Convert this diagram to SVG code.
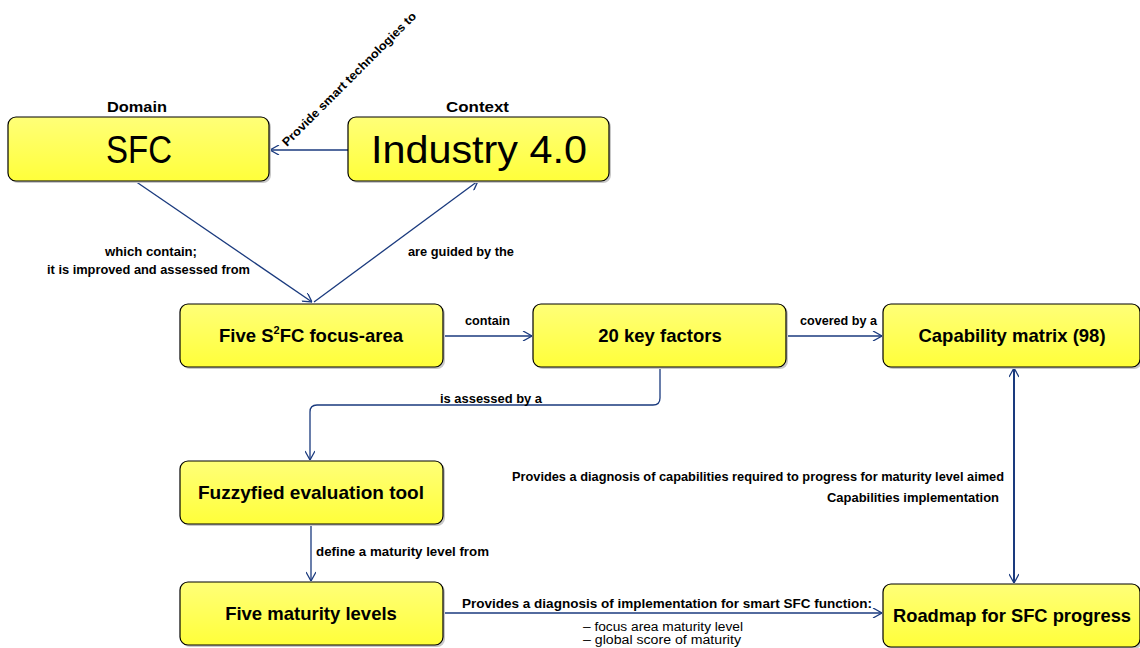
<svg xmlns="http://www.w3.org/2000/svg" width="1140" height="648" viewBox="0 0 1140 648">
<style>
.box{fill:url(#yg);stroke:#000;stroke-width:1.2}
.sh{fill:#c8c8c8}
.t{font-family:"Liberation Sans",Arial,sans-serif;font-weight:bold;font-size:18.5px;text-anchor:middle;fill:#000}
.big{font-family:"Liberation Sans",Arial,sans-serif;font-size:38px;text-anchor:middle;fill:#000}
.lb{font-family:"Liberation Sans",Arial,sans-serif;font-weight:bold;font-size:12px;fill:#000}
.ln{font-family:"Liberation Sans",Arial,sans-serif;font-size:12px;fill:#000}
.c{fill:none;stroke:#1a3a7e;stroke-width:1.3}
</style>
<defs>
<linearGradient id="yg" x1="0" y1="0" x2="0" y2="1">
<stop offset="0" stop-color="#ffff78"/>
<stop offset="1" stop-color="#ffff3a"/>
</linearGradient>
<marker id="a" viewBox="0 0 10 10" refX="10" refY="5" markerWidth="10" markerHeight="10" markerUnits="userSpaceOnUse" orient="auto-start-reverse">
<path d="M1,0 L10,5 L1,10" fill="none" stroke="#1a3a7e" stroke-width="1.3"/>
</marker>
</defs>

<g id="connectors">
<line class="c" x1="348" y1="150" x2="270" y2="150" marker-end="url(#a)"/>
<line class="c" x1="135" y1="181" x2="312" y2="302" marker-end="url(#a)"/>
<line class="c" x1="314" y1="302" x2="478" y2="181" marker-end="url(#a)"/>
<line class="c" x1="443" y1="336" x2="532" y2="336" marker-end="url(#a)"/>
<line class="c" x1="786" y1="336" x2="882" y2="336" marker-end="url(#a)"/>
<path class="c" d="M660,367 V398 Q660,405 653,405 H317 Q310,405 310,412 V460" marker-end="url(#a)"/>
<line class="c" x1="311" y1="524" x2="311" y2="581" marker-end="url(#a)"/>
<line class="c" x1="443" y1="613" x2="882" y2="613" marker-end="url(#a)"/>
<line class="c" style="stroke-width:2" x1="1014" y1="368" x2="1014" y2="583" marker-start="url(#a)" marker-end="url(#a)"/>
<text class="lb" transform="translate(287,147) rotate(-45)" textLength="184" lengthAdjust="spacingAndGlyphs">Provide smart technologies to</text>
<text class="lb" x="105" y="256" textLength="92" lengthAdjust="spacingAndGlyphs">which contain;</text>
<text class="lb" x="47" y="274" textLength="203" lengthAdjust="spacingAndGlyphs">it is improved and  assessed from</text>
<text class="lb" x="408" y="256" textLength="106" lengthAdjust="spacingAndGlyphs">are guided by the</text>
<text class="lb" x="465" y="325" textLength="45" lengthAdjust="spacingAndGlyphs">contain</text>
<text class="lb" x="800" y="325" textLength="77" lengthAdjust="spacingAndGlyphs">covered by a</text>
<text class="lb" x="440" y="403" textLength="102" lengthAdjust="spacingAndGlyphs">is assessed by a</text>
<text class="lb" x="316" y="556" textLength="173" lengthAdjust="spacingAndGlyphs">define a maturity level  from</text>
<text class="lb" x="462" y="608" textLength="410" lengthAdjust="spacingAndGlyphs">Provides a diagnosis of implementation for smart SFC function:</text>
<text class="ln" x="583" y="631" textLength="160" lengthAdjust="spacingAndGlyphs">– focus area maturity level</text>
<text class="ln" x="583" y="644" textLength="158" lengthAdjust="spacingAndGlyphs">– global score of maturity</text>
<text class="lb" x="512" y="481" textLength="492" lengthAdjust="spacingAndGlyphs">Provides a diagnosis of capabilities required to progress for maturity level aimed</text>
<text class="lb" x="827" y="502" textLength="172" lengthAdjust="spacingAndGlyphs">Capabilities implementation</text>
</g>

<g id="label-domain"><text class="lb" style="font-size:14px" x="107" y="112" textLength="60" lengthAdjust="spacingAndGlyphs">Domain</text></g>
<g id="label-context"><text class="lb" style="font-size:14px" x="446" y="112" textLength="63" lengthAdjust="spacingAndGlyphs">Context</text></g>

<g id="sfc">
<rect class="sh" x="10" y="119" width="261" height="64" rx="8"/>
<rect class="box" x="8" y="117" width="261" height="64" rx="8"/>
<text class="big" x="139" y="163" textLength="66" lengthAdjust="spacingAndGlyphs">SFC</text>
</g>
<g id="industry">
<rect class="sh" x="350" y="119" width="261" height="64" rx="8"/>
<rect class="box" x="348" y="117" width="261" height="64" rx="8"/>
<text class="big" x="479" y="163" textLength="216" lengthAdjust="spacingAndGlyphs">Industry 4.0</text>
</g>
<g id="focus-area">
<rect class="sh" x="182" y="306" width="263" height="63" rx="8"/>
<rect class="box" x="180" y="304" width="263" height="63" rx="8"/>
<text class="t" x="311" y="342">Five S<tspan font-size="11" dy="-8">2</tspan><tspan dy="8">FC focus-area</tspan></text>
</g>
<g id="key-factors">
<rect class="sh" x="535" y="306" width="253" height="63" rx="8"/>
<rect class="box" x="533" y="304" width="253" height="63" rx="8"/>
<text class="t" x="660" y="342">20 key factors</text>
</g>
<g id="capability-matrix">
<rect class="sh" x="885" y="306" width="257" height="63" rx="8"/>
<rect class="box" x="883" y="304" width="257" height="63" rx="8"/>
<text class="t" x="1012" y="342">Capability matrix (98)</text>
</g>
<g id="fuzzy">
<rect class="sh" x="182" y="463" width="263" height="63" rx="8"/>
<rect class="box" x="180" y="461" width="263" height="63" rx="8"/>
<text class="t" x="311" y="499" textLength="226" lengthAdjust="spacingAndGlyphs">Fuzzyfied evaluation tool</text>
</g>
<g id="maturity-levels">
<rect class="sh" x="182" y="584" width="263" height="63" rx="8"/>
<rect class="box" x="180" y="582" width="263" height="63" rx="8"/>
<text class="t" x="311" y="620">Five maturity levels</text>
</g>
<g id="roadmap">
<rect class="sh" x="885" y="586" width="257" height="63" rx="8"/>
<rect class="box" x="883" y="584" width="257" height="63" rx="8"/>
<text class="t" x="1012" y="622" textLength="238" lengthAdjust="spacingAndGlyphs">Roadmap for SFC progress</text>
</g>
</svg>
